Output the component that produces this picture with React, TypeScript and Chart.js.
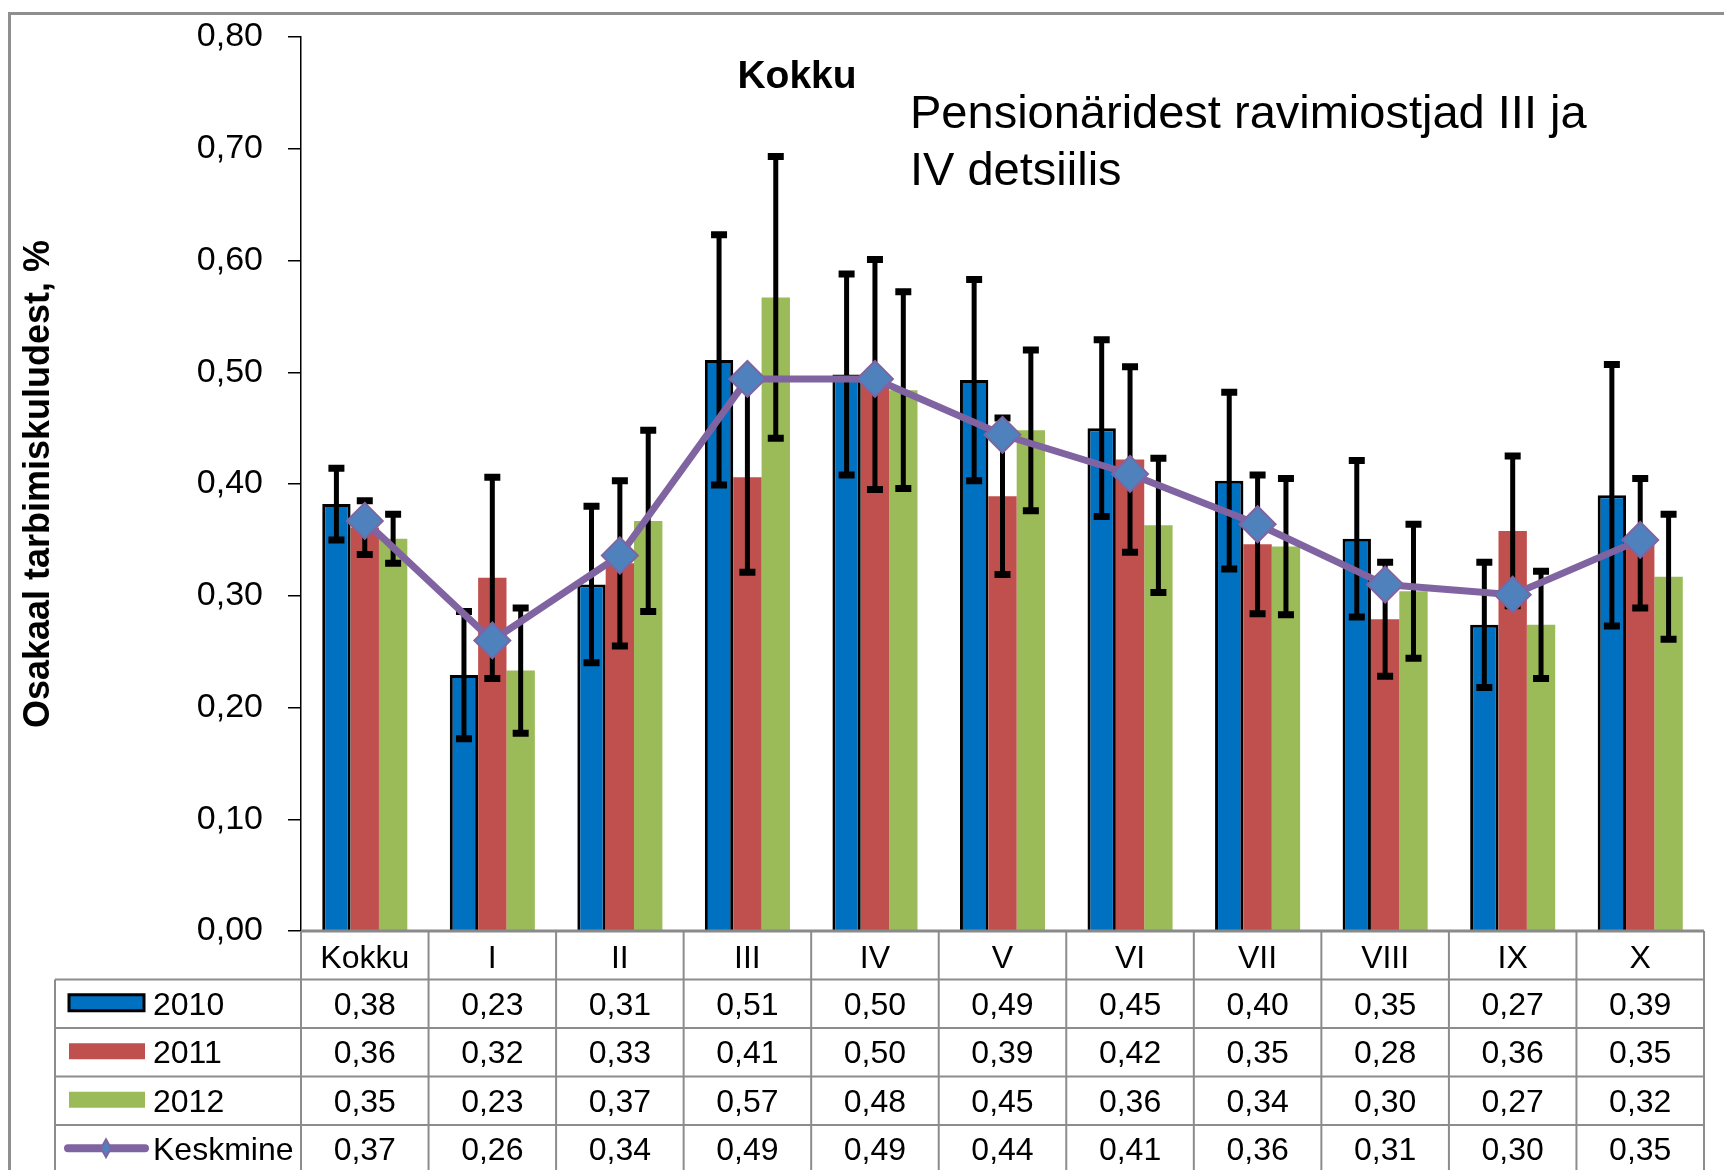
import React, { useEffect, useRef } from 'react';
import { Chart, registerables } from 'chart.js';

Chart.register(...registerables);

const categories = ['Kokku', 'I', 'II', 'III', 'IV', 'V', 'VI', 'VII', 'VIII', 'IX', 'X'];
const seriesLabels = ['2010', '2011', '2012', 'Keskmine'];

const values2010 = [0.382, 0.229, 0.31, 0.511, 0.498, 0.493, 0.45, 0.403, 0.351, 0.274, 0.39];
const values2011 = [0.361, 0.316, 0.329, 0.406, 0.498, 0.389, 0.422, 0.346, 0.279, 0.358, 0.347];
const values2012 = [0.351, 0.233, 0.367, 0.567, 0.484, 0.448, 0.363, 0.344, 0.304, 0.274, 0.317];
const valuesKeskmine = [0.367, 0.26, 0.336, 0.494, 0.494, 0.444, 0.409, 0.364, 0.31, 0.301, 0.35];

const err2010 = [0.032, 0.057, 0.07, 0.112, 0.09, 0.09, 0.079, 0.079, 0.07, 0.056, 0.117];
const err2011 = [0.024, 0.09, 0.074, 0.085, 0.103, 0.07, 0.083, 0.062, 0.051, 0.067, 0.058];
const err2012 = [0.022, 0.056, 0.081, 0.126, 0.088, 0.072, 0.06, 0.061, 0.06, 0.048, 0.056];

const yTitle = 'Osakaal tarbimiskuludest, %';
const chartTitle = 'Kokku';
const noteLines = ['Pensionäridest ravimiostjad III ja', 'IV detsiilis'];

const FONT = '"Liberation Sans", Arial, Helvetica, sans-serif';
const BLUE = '#0070C0';
const RED = '#C0504D';
const GREEN = '#9BBB59';
const PURPLE = '#8064A2';
const MARKER = '#4F81BD';
const GRID = '#8c8c8c';

const fmt = (v: number) => v.toFixed(2).replace('.', ',');

const errorBarPlugin = {
  id: 'errorBars',
  afterDatasetDraw(chart: any, args: any) {
    const ds = chart.data.datasets[args.index];
    const errs = ds.errors;
    if (!errs) return;
    const y = chart.scales.y;
    const ctx = chart.ctx;
    ctx.save();
    ctx.strokeStyle = '#000';
    args.meta.data.forEach((el: any, i: number) => {
      const v = ds.data[i];
      const e = errs[i];
      const x = el.x;
      const yt = y.getPixelForValue(v + e);
      const yb = y.getPixelForValue(v - e);
      ctx.lineWidth = 5;
      ctx.beginPath();
      ctx.moveTo(x, yt);
      ctx.lineTo(x, yb);
      ctx.stroke();
      ctx.lineWidth = 7;
      ctx.beginPath();
      ctx.moveTo(x - 8, yt);
      ctx.lineTo(x + 8, yt);
      ctx.moveTo(x - 8, yb);
      ctx.lineTo(x + 8, yb);
      ctx.stroke();
    });
    ctx.restore();
  },
};

const decorPlugin = {
  id: 'decor',
  beforeDraw(chart: any) {
    const ctx = chart.ctx;
    ctx.save();
    ctx.strokeStyle = '#8f8f8f';
    ctx.lineWidth = 3;
    ctx.strokeRect(9.5, 13.5, 1730, 1200);
    ctx.restore();
  },
  afterDraw(chart: any) {
    const ctx = chart.ctx;
    const area = chart.chartArea;
    const xs = chart.scales.x;
    ctx.save();
    ctx.fillStyle = '#000';
    ctx.font = `bold 39px ${FONT}`;
    ctx.textAlign = 'center';
    ctx.textBaseline = 'alphabetic';
    ctx.fillText(chartTitle, 797, 88);
    ctx.font = `47px ${FONT}`;
    ctx.textAlign = 'left';
    ctx.fillText(noteLines[0], 910, 128);
    ctx.fillText(noteLines[1], 910, 185);

    // data table
    const n = categories.length;
    const colW = (area.right - area.left) / n;
    const rowH = 48.5;
    const top0 = area.bottom;
    const legendLeft = 55;
    const tableBottom = top0 + rowH * 5;
    ctx.strokeStyle = GRID;
    ctx.lineWidth = 2;
    for (let r = 1; r <= 5; r++) {
      const yy = top0 + rowH * r;
      ctx.beginPath();
      ctx.moveTo(legendLeft, yy);
      ctx.lineTo(area.right, yy);
      ctx.stroke();
    }
    for (let k = 0; k <= n; k++) {
      const xx = area.left + k * colW;
      ctx.beginPath();
      ctx.moveTo(xx, top0);
      ctx.lineTo(xx, tableBottom);
      ctx.stroke();
    }
    ctx.beginPath();
    ctx.moveTo(legendLeft, top0 + rowH);
    ctx.lineTo(legendLeft, tableBottom);
    ctx.stroke();
    ctx.lineWidth = 3;
    ctx.strokeStyle = '#8a8a8a';
    ctx.beginPath();
    ctx.moveTo(area.left, top0);
    ctx.lineTo(area.right, top0);
    ctx.stroke();

    ctx.fillStyle = '#000';
    ctx.font = `32px ${FONT}`;
    ctx.textAlign = 'center';
    categories.forEach((c, i) => {
      ctx.fillText(c, xs.getPixelForValue(i), top0 + 37);
    });
    const rows = [values2010, values2011, values2012, valuesKeskmine];
    rows.forEach((arr, r) => {
      const base = top0 + rowH * (r + 1) + 35;
      arr.forEach((v, i) => {
        ctx.fillText(fmt(v), xs.getPixelForValue(i), base);
      });
    });
    ctx.textAlign = 'left';
    seriesLabels.forEach((lab, r) => {
      const rowTop = top0 + rowH * (r + 1);
      const base = rowTop + 35;
      const cy = rowTop + rowH / 2 - 1;
      if (r < 3) {
        ctx.fillStyle = [BLUE, RED, GREEN][r];
        ctx.fillRect(69, cy - 8, 76, 16);
        if (r === 0) {
          ctx.strokeStyle = '#000';
          ctx.lineWidth = 3;
          ctx.strokeRect(69, cy - 8, 75, 16);
        }
      } else {
        ctx.strokeStyle = PURPLE;
        ctx.lineWidth = 8;
        ctx.lineCap = 'round';
        ctx.beginPath();
        ctx.moveTo(68, cy);
        ctx.lineTo(145, cy);
        ctx.stroke();
        ctx.fillStyle = MARKER;
        ctx.strokeStyle = PURPLE;
        ctx.lineWidth = 2;
        ctx.beginPath();
        ctx.moveTo(106, cy - 9);
        ctx.lineTo(111, cy);
        ctx.lineTo(106, cy + 9);
        ctx.lineTo(101, cy);
        ctx.closePath();
        ctx.fill();
        ctx.stroke();
      }
      ctx.fillStyle = '#000';
      ctx.fillText(lab, 153, base);
    });
    ctx.restore();
  },
};

export default function App() {
  const canvasRef = useRef<HTMLCanvasElement | null>(null);

  useEffect(() => {
    const canvas = canvasRef.current;
    if (!canvas) return;
    const chart = new Chart(canvas, {
      type: 'bar',
      data: {
        labels: categories,
        datasets: [
          {
            type: 'bar',
            label: seriesLabels[0],
            data: values2010,
            errors: err2010,
            backgroundColor: BLUE,
            borderColor: '#000',
            borderWidth: 3,
            order: 1,
          } as any,
          {
            type: 'bar',
            label: seriesLabels[1],
            data: values2011,
            errors: err2011,
            backgroundColor: RED,
            borderWidth: 0,
            order: 1,
          } as any,
          {
            type: 'bar',
            label: seriesLabels[2],
            data: values2012,
            errors: err2012,
            backgroundColor: GREEN,
            borderWidth: 0,
            order: 1,
          } as any,
          {
            type: 'line',
            label: seriesLabels[3],
            data: valuesKeskmine,
            borderColor: PURPLE,
            borderWidth: 7,
            tension: 0,
            pointStyle: 'rectRot',
            pointRadius: 18,
            pointBackgroundColor: MARKER,
            pointBorderColor: PURPLE,
            pointBorderWidth: 2,
            order: 0,
          } as any,
        ],
      },
      options: {
        animation: false,
        responsive: false,
        maintainAspectRatio: false,
        layout: { padding: { top: 37, right: 17, bottom: 239, left: 0 } },
        datasets: {
          bar: { categoryPercentage: 0.667, barPercentage: 1.0 },
        },
        plugins: {
          legend: { display: false },
          tooltip: { enabled: false },
          title: { display: false },
        },
        scales: {
          x: {
            display: false,
            offset: true,
          },
          y: {
            min: 0,
            max: 0.8,
            afterFit: (scale: any) => {
              scale.width = 301;
              scale.paddingTop = 0;
              scale.paddingBottom = 0;
            },
            ticks: {
              stepSize: 0.1,
              color: '#000',
              padding: 25,
              font: { family: FONT, size: 34 },
              callback: (v: any) => fmt(Number(v)),
            },
            grid: {
              display: true,
              drawOnChartArea: false,
              drawTicks: true,
              tickLength: 13,
              color: '#000',
              lineWidth: 1.5,
            },
            border: { display: true, color: '#000', width: 1.5 },
            title: {
              display: true,
              text: yTitle,
              color: '#000',
              font: { family: FONT, size: 36, weight: 'bold' },
              padding: { top: 17, bottom: 0 },
            },
          },
        },
      },
      plugins: [errorBarPlugin, decorPlugin],
    });
    return () => chart.destroy();
  }, []);

  return (
    <div style={{ position: 'absolute', left: 0, top: 0, width: 1724, height: 1170, background: '#fff' }}>
      <canvas ref={canvasRef} width={1724} height={1170} />
    </div>
  );
}
